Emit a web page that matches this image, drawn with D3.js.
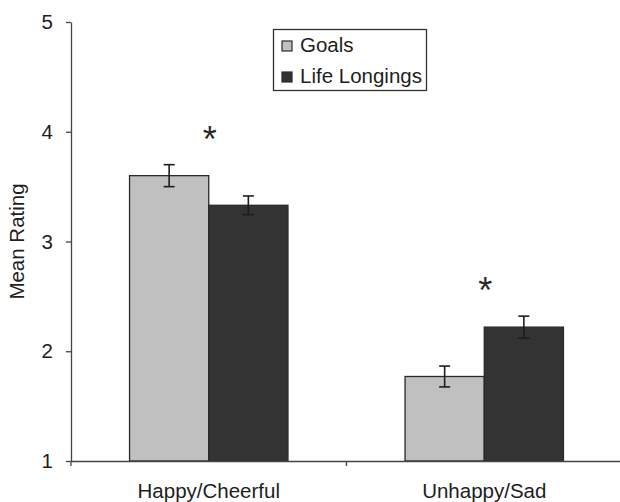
<!DOCTYPE html>
<html>
<head>
<meta charset="utf-8">
<script src="https://cdn.jsdelivr.net/npm/d3@7"></script>
<style>
  html, body { margin: 0; padding: 0; background: #fff; }
  svg { display: block; font-family: "Liberation Sans", Arial, sans-serif; }
</style>
</head>
<body>
<svg id="chart" width="620" height="502"></svg>
<script>
// Mood ratings by category, for goals vs. life longings
const categories = ["Happy/Cheerful", "Unhappy/Sad"];
const seriesNames = ["Goals", "Life Longings"];
const goalsMeans = [3.60, 1.77];
const goalsErrors = [0.10, 0.095];
const longingsMeans = [3.33, 2.22];
const longingsErrors = [0.085, 0.10];
const significant = [true, true];
const yTicks = [1, 2, 3, 4, 5];

const seriesColors = ["#c0c0c0", "#333333"];
const ink = "#1e1e1e";
const fontSize = 20.5;

const rows = categories.map((c, i) => ({
  category: c,
  values: [
    { series: seriesNames[0], mean: goalsMeans[i], err: goalsErrors[i] },
    { series: seriesNames[1], mean: longingsMeans[i], err: longingsErrors[i] }
  ],
  sig: significant[i]
}));

const svg = d3.select("#chart");
const plotLeft = 71, plotRight = 622, plotTop = 22, plotBottom = 461;

const y = d3.scaleLinear().domain([1, 5]).range([plotBottom, plotTop]);
const x0 = d3.scaleBand().domain(categories).range([plotLeft, plotRight]).padding(0);
const groupWidth = x0.bandwidth() * 0.575;
const x1 = d3.scaleBand().domain(seriesNames).range([0, groupWidth]).padding(0);
const color = d3.scaleOrdinal().domain(seriesNames).range(seriesColors);

// Bars
const groups = svg.append("g").selectAll("g")
  .data(rows).join("g")
  .attr("transform", d => `translate(${x0(d.category) + (x0.bandwidth() - groupWidth) / 2},0)`);

groups.selectAll("rect")
  .data(d => d.values).join("rect")
  .attr("x", d => x1(d.series))
  .attr("y", d => y(d.mean))
  .attr("width", x1.bandwidth())
  .attr("height", d => y(1) - y(d.mean))
  .attr("fill", d => color(d.series))
  .attr("stroke", "#2a2a2a")
  .attr("stroke-width", 1.3);

// Error bars
const capHalf = 5.5;
const eb = groups.selectAll("g.err")
  .data(d => d.values).join("g")
  .attr("class", "err")
  .attr("stroke", ink)
  .attr("stroke-width", 1.6);
eb.append("line")
  .attr("x1", d => x1(d.series) + x1.bandwidth() / 2)
  .attr("x2", d => x1(d.series) + x1.bandwidth() / 2)
  .attr("y1", d => y(d.mean + d.err))
  .attr("y2", d => y(d.mean - d.err));
eb.append("line")
  .attr("x1", d => x1(d.series) + x1.bandwidth() / 2 - capHalf)
  .attr("x2", d => x1(d.series) + x1.bandwidth() / 2 + capHalf)
  .attr("y1", d => y(d.mean + d.err))
  .attr("y2", d => y(d.mean + d.err));
eb.append("line")
  .attr("x1", d => x1(d.series) + x1.bandwidth() / 2 - capHalf)
  .attr("x2", d => x1(d.series) + x1.bandwidth() / 2 + capHalf)
  .attr("y1", d => y(d.mean - d.err))
  .attr("y2", d => y(d.mean - d.err));

// Significance asterisks above each pair
svg.append("g").selectAll("text")
  .data(rows.filter(d => d.sig)).join("text")
  .attr("x", d => x0(d.category) + x0.bandwidth() / 2 + 1)
  .attr("y", d => y(d3.max(d.values, v => v.mean + v.err) + 0.3) + 20)
  .attr("text-anchor", "middle")
  .attr("font-size", 36)
  .attr("fill", "#2a2a2a")
  .text("*");

// Y axis
const yAxis = svg.append("g")
  .attr("transform", `translate(${plotLeft},0)`)
  .call(d3.axisLeft(y).tickValues(yTicks).tickFormat(d3.format("d"))
    .tickSize(5).tickSizeOuter(0).tickPadding(13));
yAxis.select(".domain").attr("stroke", "#444").attr("stroke-width", 1.3);
yAxis.selectAll(".tick line").attr("stroke", "#444").attr("stroke-width", 1.3);
yAxis.selectAll("text").attr("font-size", fontSize).attr("fill", ink)
  .attr("font-family", "Liberation Sans, Arial, sans-serif");

// X axis: category labels centred in bands, tick marks on band boundaries
const xAxis = svg.append("g")
  .attr("transform", `translate(0,${plotBottom})`)
  .call(d3.axisBottom(x0).tickSize(0).tickSizeOuter(0).tickPadding(22));
xAxis.select(".domain").attr("stroke", "#444").attr("stroke-width", 1.3);
xAxis.selectAll("text").attr("font-size", fontSize).attr("fill", ink)
  .attr("font-family", "Liberation Sans, Arial, sans-serif");
const boundaries = categories.map(c => x0(c)).concat([x0.range()[1]]);
xAxis.selectAll("line.bound")
  .data(boundaries).join("line")
  .attr("class", "bound")
  .attr("x1", d => d).attr("x2", d => d)
  .attr("y1", 0).attr("y2", 5)
  .attr("stroke", "#444").attr("stroke-width", 1.3);

// Y axis title
svg.append("text")
  .attr("transform", `translate(24,${(plotTop + plotBottom) / 2}) rotate(-90)`)
  .attr("text-anchor", "middle")
  .attr("font-size", fontSize)
  .attr("fill", ink)
  .text("Mean Rating");

// Legend
const legend = svg.append("g").attr("transform", "translate(273.5,29.5)");
legend.append("rect")
  .attr("width", 153).attr("height", 61)
  .attr("fill", "#fff").attr("stroke", "#333").attr("stroke-width", 1.3);
const li = legend.selectAll("g.item")
  .data(seriesNames).join("g")
  .attr("class", "item")
  .attr("transform", (d, i) => `translate(8.5,${11.5 + i * 31})`);
li.append("rect")
  .attr("width", 10).attr("height", 10)
  .attr("fill", d => color(d))
  .attr("stroke", "#2a2a2a").attr("stroke-width", 1.2);
li.append("text")
  .attr("x", 18).attr("y", 11)
  .attr("font-size", fontSize)
  .attr("fill", ink)
  .text(d => d);
</script>
</body>
</html>
